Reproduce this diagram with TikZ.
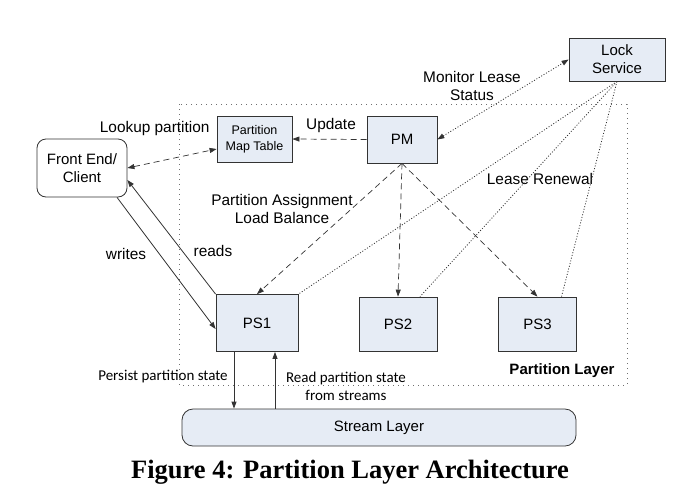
\documentclass[tikz,border=0pt]{standalone}
\usepackage{fontspec}
\setmainfont{Liberation Sans}
\newfontfamily\calfont{Carlito}
\newfontfamily\capfont{Liberation Serif}
\definecolor{boxfill}{HTML}{E6ECF5}
\definecolor{linegray}{HTML}{333333}
\usetikzlibrary{arrows.meta}

\begin{document}
\begin{tikzpicture}[x=1pt, y=-1pt,
        box/.style={draw=linegray, fill=boxfill, line width=0.8pt, inner sep=0pt, align=center, font=\fontsize{15}{18}\selectfont},
        client/.style={draw=linegray, fill=white, line width=0.8pt, rounded corners=9pt, inner sep=0pt, align=center, minimum width=90pt, minimum height=58pt, font=\fontsize{15}{18}\selectfont},
        lbl/.style={align=center, font=\fontsize{15.4}{18}\selectfont},
        callbl/.style={align=center, font=\calfont\fontsize{15}{18}\selectfont},
        arrowtip/.style={-{Triangle[length=7pt,width=5pt]}},
        twotips/.style={{Triangle[length=7pt,width=5pt]}-{Triangle[length=7pt,width=5pt]}},
        dashline/.style={dash pattern=on 6pt off 4pt, color=linegray, line width=0.7pt},
        dotline/.style={dash pattern=on 1pt off 1.8pt, color=linegray, line width=0.8pt},
        solidline/.style={arrowtip, color=linegray, line width=0.8pt}
    ]
    \useasboundingbox (0,0) rectangle (692,488);
    % partition layer frame
    \draw[linegray!70, line width=0.7pt, dash pattern=on 1pt off 4pt] (179,104) rectangle (627,385);
    \node[lbl, font=\bfseries\fontsize{15}{18}\selectfont] (layer) at (562,371) {Partition Layer};

    \node[box, minimum width=96pt, minimum height=43pt] (lock) at (617,59.5) {Lock\\Service};
    \node[box, minimum width=70pt, minimum height=47pt] (pm) at (402,139.5) {PM};
    \node[box, minimum width=75pt, minimum height=46pt, font=\fontsize{12.5}{16}\selectfont] (pmt) at (254.5,139) {Partition\\Map Table};
    \node[client] (fe) at (82,168) {Front End/\\Client};
    \node[box, minimum width=82pt, minimum height=57pt] (ps1) at (257,323) {PS1};
    \foreach \i/\x in {2/398, 3/537.5} {
        \node[box, minimum width=78pt, minimum height=54pt] (ps\i) at (\x,324) {PS\i};
    }
    \node[box, rounded corners=11pt, minimum width=394pt, minimum height=37pt] (stream) at (379,427.5) {Stream Layer};

    % labels
    \node[lbl, anchor=east] (lookup) at (213,129) {Lookup partition};
    \node[lbl] (update) at (331,126) {Update};
    \node[lbl] (monitor) at (472,86) {Monitor Lease\\Status};
    \node[lbl] (renew) at (540,179) {Lease Renewal};
    \node[lbl] (assign) at (282,209) {Partition Assignment\\Load Balance};
    \node[lbl] (writes) at (126,254) {writes};
    \node[lbl] (reads) at (213,251) {reads};
    \node[callbl] (persist) at (163,377) {Persist partition state};
    \node[callbl] (readps) at (346,386) {Read partition state\\from streams};
    \node[font=\capfont\bfseries\fontsize{26.5}{30}\selectfont] (caption) at (350,472) {Figure 4: Partition Layer Architecture};

    % dashed connectors
    \draw[twotips, dashline] (fe.east) -- ([yshift=-10pt]pmt.west);
    \draw[arrowtip, dashline] (pm.west) -- (pmt.east);
    \draw[arrowtip, dashline] (pm.south) -- (ps1.north);
    \draw[arrowtip, dashline] (pm.south) -- (ps2.north);
    \draw[arrowtip, dashline] (pm.south) -- (ps3.north);
    % dotted connectors
    \draw[twotips, dotline] (pm.east) -- (lock.west);
    \draw[dotline] (lock.south) -- (ps1.north east);
    \draw[dotline] (lock.south) -- ([xshift=22pt]ps2.north);
    \draw[dotline] (lock.south) -- ([xshift=24pt]ps3.north);
    % solid connectors
    \draw[solidline] ([xshift=35pt]fe.south) -- ([yshift=-6pt]ps1.west);
    \draw[solidline] (ps1.north west) -- ([yshift=-12pt]fe.east);
    \draw[solidline] ([xshift=-23pt]ps1.south) -- ([xshift=-23pt]ps1.south |- stream.north);
    \draw[solidline] ([xshift=18pt]ps1.south |- stream.north) -- ([xshift=18pt]ps1.south);
\end{tikzpicture}
\end{document}
